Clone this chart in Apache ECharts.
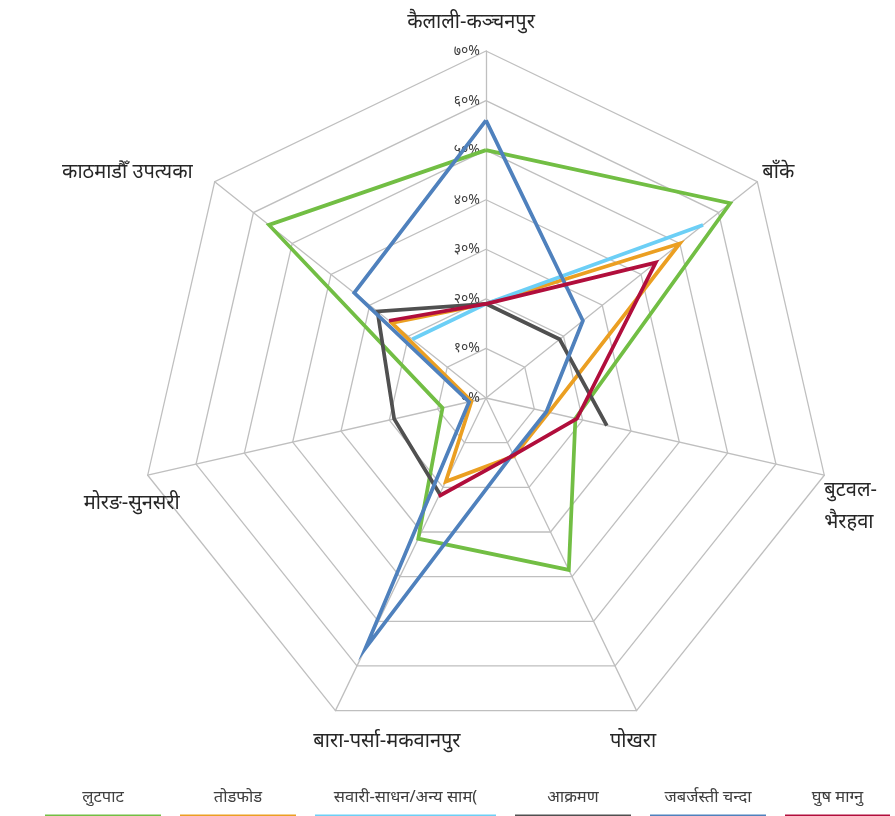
<!DOCTYPE html>
<html>
<head>
<meta charset="utf-8">
<title>अपराध प्रकार - क्षेत्रगत</title>
<script src="https://cdn.jsdelivr.net/npm/echarts@6/dist/echarts.min.js"></script>
<style>
  html, body { margin: 0; padding: 0; background: #fff; }
  #chart { width: 895px; height: 816px; }
</style>
</head>
<body>
<div id="chart"></div>
<script>
// क्षेत्रहरू, माथिबाट घडीको सुईको दिशामा
const regions = ['कैलाली-कञ्चनपुर', 'बाँके', 'बुटवल-भैरहवा', 'पोखरा', 'बारा-पर्सा-मकवानपुर', 'मोरङ-सुनसरी', 'काठमाडौँ उपत्यका']
const seriesNames = ['लुटपाट', 'तोडफोड', 'सवारी-साधन/अन्य साम(', 'आक्रमण', 'जबर्जस्ती चन्दा', 'घुष माग्नु']

// प्रतिशत मान (null = डाटा छैन)
const lutpat   = [50, 63, 18.5, 38.5, 31.5, 9, 56]
const todfod   = [19, 50, 13, 13, 18.7, 3, 24.3]
const sawari   = [19, 56, null, null, null, null, 19]
const aakraman = [19, 19, 25, null, 21.5, 19, 28]
const chanda   = [56, 25, 12.5, 12.5, 56, 3.5, 34]
const ghus     = [19, 43.8, 18.8, 12.8, 22, null, 25]
const seriesValues = [lutpat, todfod, sawari, aakraman, chanda, ghus]

const tickValues = [0, 10, 20, 30, 40, 50, 60, 70]

const colors = ['#72BE44', '#EB9F22', '#6CCFF6', '#505050', '#4F81BD', '#B10E3C']
const FONT = '"Noto Sans", "DejaVu Sans", sans-serif'

// नामको तेर्सो स्थान (क्षेत्र क्रम अनुसार)
const nameStyles = [
  { align: 'center', padding: [0, 30, 0, 0] },
  { align: 'left', padding: [0, 0, 0, 5] },
  { align: 'left', padding: [0, 0, 0, 0] },
  { align: 'center', padding: [0, 7, 0, 0] },
  { align: 'center', padding: [0, 0, 0, 103] },
  { align: 'right', padding: [0, -32, 0, 0] },
  { align: 'right', padding: [0, 22, 0, 0] }
]
// ठाडो स्थानका लागि खाली पंक्ति
const nameLayouts = [
  name => `{n|${name}}\n{s14| }`,
  name => `{n|${name}}\n{s19| }`,
  name => `{s62| }\n{m|${name.replace('-', '-}\n{m|')}}`,
  name => `{s62| }\n{n|${name}}`,
  name => `{s62| }\n{n|${name}}`,
  name => `{s56| }\n{n|${name}}`,
  name => `{n|${name}}\n{s19| }`
]

const devDigits = '०१२३४५६७८९'
const toDev = n => String(n).replace(/\d/g, d => devDigits[d])

const axisMax = tickValues[tickValues.length - 1]
const n = regions.length

// radar ले घडीको उल्टो दिशामा राख्छ, त्यसैले क्रम उल्टाउने
const radarOrder = [0].concat(regions.map((_, i) => i).slice(1).reverse())

const indicator = radarOrder.map(k => {
  const ind = {
    name: regions[k],
    min: 0,
    max: axisMax,
    nameTextStyle: nameStyles[k]
  }
  if (k === 0) {
    ind.axisLabel = {
      show: true,
      margin: 6,
      color: '#404040',
      fontSize: 14,
      fontFamily: FONT,
      formatter: v => toDev(v) + '%'
    }
  }
  return ind
})

const chart = echarts.init(document.getElementById('chart'))

chart.setOption({
  animation: false,
  backgroundColor: '#fff',
  radar: {
    center: [486, 398],
    radius: 347,
    startAngle: 90,
    shape: 'polygon',
    splitNumber: tickValues.length - 1,
    axisNameGap: 0,
    axisName: {
      color: '#262626',
      fontSize: 20,
      fontFamily: FONT,
      formatter: name => nameLayouts[regions.indexOf(name)](name),
      rich: {
        n: { fontSize: 20, lineHeight: 26, fontFamily: FONT, color: '#262626' },
        m: { fontSize: 20, lineHeight: 32, fontFamily: FONT, color: '#262626' },
        s14: { fontSize: 4, lineHeight: 14 },
        s19: { fontSize: 4, lineHeight: 19 },
        s56: { fontSize: 4, lineHeight: 56 },
        s62: { fontSize: 4, lineHeight: 62 }
      }
    },
    axisLine: { lineStyle: { color: '#BFBFBF', width: 1.3 } },
    splitLine: { lineStyle: { color: '#BFBFBF', width: 1.3 } },
    splitArea: { show: false },
    axisTick: { show: false },
    axisLabel: { show: false },
    indicator
  },
  // रेखाहरूका लागि (खाली डाटामा रेखा टुट्छ)
  polar: { center: [486, 398], radius: 347 },
  angleAxis: { type: 'value', min: 0, max: n, startAngle: 90, clockwise: true, show: false },
  radiusAxis: { type: 'value', min: 0, max: axisMax, show: false },
  legend: {
    top: 789,
    left: 39,
    padding: 0,
    itemGap: 13,
    itemWidth: 1,
    itemHeight: 1,
    icon: 'rect',
    itemStyle: { color: 'rgba(0,0,0,0)' },
    data: seriesNames,
    formatter: name => {
      const i = seriesNames.indexOf(name)
      return `{t${i}|${name}}\n{b${i}|}`
    },
    textStyle: {
      fontFamily: FONT,
      rich: (() => {
        const widths = [116, 116, 181, 116, 116, 105]
        const r = {}
        widths.forEach((w, i) => {
          r['t' + i] = { width: w, align: 'center', fontSize: 16.5, lineHeight: 22, color: '#404040', fontFamily: FONT }
          r['b' + i] = { width: w, height: 4, lineHeight: 16, backgroundColor: colors[i] }
        })
        return r
      })()
    }
  },
  series: seriesValues.map((vals, si) => ({
    name: seriesNames[si],
    type: 'line',
    coordinateSystem: 'polar',
    symbol: 'none',
    connectNulls: false,
    color: colors[si],
    lineStyle: { width: 3.75, color: colors[si], join: 'miter' },
    data: vals.map((v, i) => [v == null ? '-' : v, i]).concat([[vals[0] == null ? '-' : vals[0], n]])
  }))
})
</script>
</body>
</html>
